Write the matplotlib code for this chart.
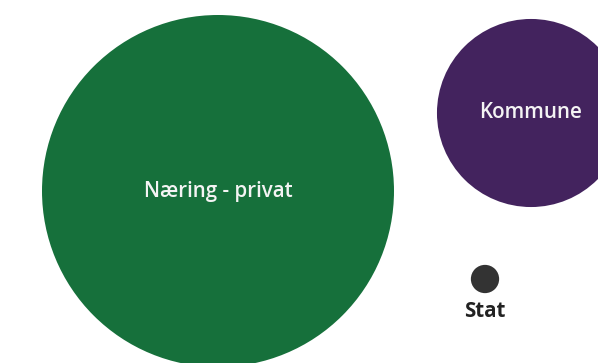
import matplotlib
matplotlib.use("Agg")
import matplotlib.pyplot as plt
from matplotlib.patches import Circle
import numpy as np

categories = ["Næring - privat", "Kommune", "Stat"]
values = [31000, 8850, 200]
pos_x = [218, 531, 485]
pos_y = [191, 113, 279]
colors = ["#16703b", "#43235e", "#333333"]

fig = plt.figure(figsize=(5.98, 3.63), dpi=100)
ax = fig.add_axes([0, 0, 1, 1])
ax.set_xlim(0, 598)
ax.set_ylim(363, 0)
ax.set_aspect("equal")
ax.axis("off")

scale = 176 / np.sqrt(values[0])
for name, v, x, y, c in zip(categories, values, pos_x, pos_y, colors):
    r = scale * np.sqrt(v)
    ax.add_patch(Circle((x, y), r, facecolor=c, edgecolor="none"))
    if r > 40:
        ax.text(x, y, name, color="#f4f4f4", fontsize=14.8, family="Open Sans",
                fontweight="semibold", ha="center", va="center")
    else:
        ax.text(x, y + r + 18, name, color="#222222", fontsize=14.8, family="Open Sans",
                fontweight="bold", ha="center", va="center")

fig.savefig("out.png", dpi=100)
